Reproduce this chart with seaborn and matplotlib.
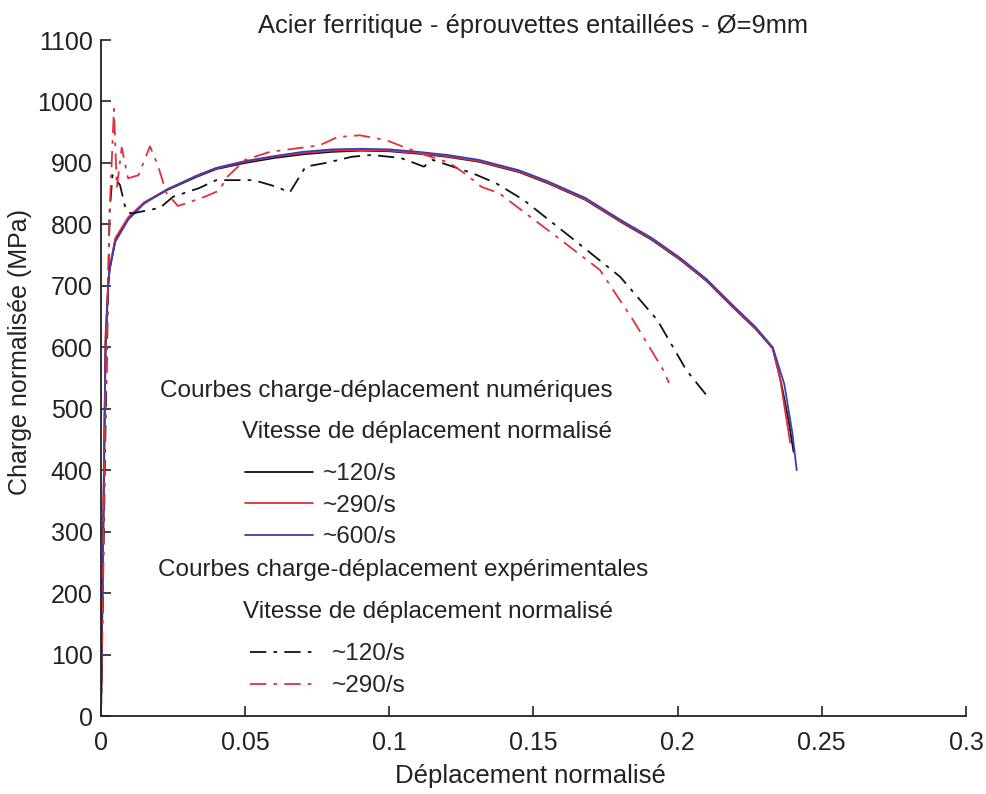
import seaborn as sns
import matplotlib.pyplot as plt
import pandas as pd


# Donnees

x_num_120 = [0, 0.0008, 0.0016, 0.0025, 0.003, 0.005, 0.0095, 0.015, 0.023, 0.033, 0.04, 0.05, 0.06, 0.07,
             0.08, 0.09, 0.1, 0.11, 0.12, 0.131, 0.145, 0.155, 0.168, 0.181, 0.191, 0.201, 0.21, 0.219,
             0.227, 0.233, 0.236, 0.2385, 0.2402]
y_num_120 = [0, 300, 600, 700, 726, 775, 810, 835, 856, 877, 890, 900, 908, 914, 918, 920, 919, 915, 910,
             902, 885, 867, 840, 802, 775, 742, 708, 666, 630, 598, 540, 480, 430]

x_num_290 = [0, 0.0008, 0.0016, 0.0025, 0.003, 0.005, 0.0095, 0.015, 0.023, 0.033, 0.04, 0.05, 0.06, 0.07,
             0.08, 0.09, 0.1, 0.11, 0.12, 0.131, 0.145, 0.155, 0.168, 0.181, 0.191, 0.201, 0.21, 0.219,
             0.227, 0.233, 0.2355, 0.2375, 0.239]
y_num_290 = [0, 320, 620, 705, 730, 778, 812, 836, 857, 878, 891, 902, 910, 916, 920, 921, 920, 916, 911,
             903, 886, 868, 841, 803, 776, 743, 709, 667, 631, 598, 550, 490, 445]

x_num_600 = [0, 0.0008, 0.0016, 0.0025, 0.003, 0.005, 0.0095, 0.015, 0.023, 0.033, 0.04, 0.05, 0.06, 0.07,
             0.08, 0.09, 0.1, 0.11, 0.12, 0.131, 0.145, 0.155, 0.168, 0.181, 0.191, 0.201, 0.21, 0.219,
             0.227, 0.233, 0.237, 0.2398, 0.2413]
y_num_600 = [0, 310, 610, 702, 728, 772, 808, 834, 857, 879, 892, 903, 911, 918, 922, 923, 922, 918, 913,
             905, 888, 870, 843, 805, 778, 745, 711, 669, 633, 600, 540, 460, 400]

x_exp_120 = [0, 0.0015, 0.003, 0.004, 0.0066, 0.0083, 0.0095, 0.011, 0.0205, 0.025, 0.034, 0.04, 0.05,
             0.053, 0.061, 0.0655, 0.071, 0.078, 0.087, 0.094, 0.104, 0.112, 0.115, 0.129, 0.137, 0.1465,
             0.1627, 0.18, 0.193, 0.203, 0.21]
y_exp_120 = [0, 450, 820, 880, 864, 830, 819, 818, 827, 845, 859, 872, 872, 872, 861, 852, 894, 900, 910,
             913, 908, 894, 905, 883, 867, 840, 780, 715, 644, 563, 522]

x_exp_290 = [0, 0.0015, 0.003, 0.0045, 0.0055, 0.0072, 0.0094, 0.013, 0.017, 0.0198, 0.0227, 0.0267, 0.03,
             0.036, 0.041, 0.0437, 0.05, 0.0586, 0.07, 0.076, 0.082, 0.0898, 0.099, 0.105, 0.113, 0.121,
             0.127, 0.132, 0.138, 0.158, 0.173, 0.1846, 0.195, 0.197]
y_exp_290 = [0, 500, 820, 988, 860, 925, 875, 880, 927, 895, 851, 830, 835, 845, 855, 877, 905, 918, 925,
             929, 942, 945, 937, 926, 912, 900, 880, 861, 851, 780, 726, 644, 563, 542]

x_ticks = [0, 0.05, 0.1, 0.15, 0.2, 0.25, 0.3]
x_tick_labels = ["0", "0.05", "0.1", "0.15", "0.2", "0.25", "0.3"]
y_ticks = list(range(0, 1101, 100))

num_labels = ["~120/s", "~290/s", "~600/s"]
exp_labels = ["~120/s", "~290/s"]


# Style

sns.set_theme(style="white")
plt.rcParams["font.family"] = ["Liberation Sans", "DejaVu Sans"]

fig = plt.figure(figsize=(9.87, 7.94), dpi=100)
ax = fig.add_axes([0.1023, 0.0982, 0.8764, 0.8514])

rouge = "#e0303c"
bleu = "#3c3cb4"
noir = "#111111"
gris = "#222222"


# Courbes numeriques

num = [(x_num_120, y_num_120, noir), (x_num_290, y_num_290, rouge), (x_num_600, y_num_600, bleu)]
num_lines = []
for xs, ys, c in num:
    d = pd.DataFrame({"x": xs, "y": ys})
    sns.lineplot(data=d, x="x", y="y", sort=False, estimator=None, color=c, linewidth=1.3, ax=ax)
    num_lines.append(ax.lines[-1])

# Courbes experimentales

exp = [(x_exp_120, y_exp_120, noir), (x_exp_290, y_exp_290, rouge)]
exp_lines = []
for xs, ys, c in exp:
    d = pd.DataFrame({"x": xs, "y": ys})
    sns.lineplot(data=d, x="x", y="y", sort=False, estimator=None, color=c, linewidth=1.3, ax=ax)
    ln = ax.lines[-1]
    ln.set_dashes((9, 4, 2, 4))
    exp_lines.append(ln)


# Axes

ax.set_xlim(0, 0.3)
ax.set_ylim(0, 1100)
ax.set_xticks(x_ticks)
ax.set_xticklabels(x_tick_labels)
ax.set_yticks(y_ticks)
ax.tick_params(direction="in", length=7, width=1.2, labelsize=18, colors=gris, pad=6,
               bottom=True, left=True)
ax.tick_params(axis="x", pad=11)
for s in ["top", "right"]:
    ax.spines[s].set_visible(False)
for s in ["left", "bottom"]:
    ax.spines[s].set_color(gris)
    ax.spines[s].set_linewidth(1.3)

ax.set_xlabel("Déplacement normalisé", fontsize=18.5, color=gris)
ax.xaxis.set_label_coords(0.496, -0.071)
ax.set_ylabel("Charge normalisée (MPa)", fontsize=18, color=gris)
ax.yaxis.set_label_coords(-0.080, 0.538)
ax.set_title("Acier ferritique - éprouvettes entaillées - Ø=9mm", fontsize=18.4, color=gris, pad=5)


# Legendes

fs_leg = 17.5
fig.text(160 / 987, 1 - 391 / 794, "Courbes charge-déplacement numériques", fontsize=fs_leg,
         va="center", ha="left", color=gris)
fig.text(242 / 987, 1 - 432 / 794, "Vitesse de déplacement normalisé", fontsize=fs_leg,
         va="center", ha="left", color=gris)
leg1 = fig.legend(num_lines, num_labels, loc="upper left", bbox_to_anchor=(245 / 987, 1 - 463 / 794),
                  frameon=False, fontsize=fs_leg, borderpad=0, borderaxespad=0, handlelength=2.8,
                  handletextpad=0.4, labelspacing=0.4)

fig.text(158 / 987, 1 - 570 / 794, "Courbes charge-déplacement expérimentales", fontsize=fs_leg,
         va="center", ha="left", color=gris)
fig.text(243 / 987, 1 - 612 / 794, "Vitesse de déplacement normalisé", fontsize=fs_leg,
         va="center", ha="left", color=gris)
leg2 = fig.legend(exp_lines, exp_labels, loc="upper left", bbox_to_anchor=(250 / 987, 1 - 643 / 794),
                  frameon=False, fontsize=fs_leg, borderpad=0, borderaxespad=0, handlelength=2.8,
                  handletextpad=0.55, labelspacing=0.42)

fig.savefig("out.png", dpi=100)
